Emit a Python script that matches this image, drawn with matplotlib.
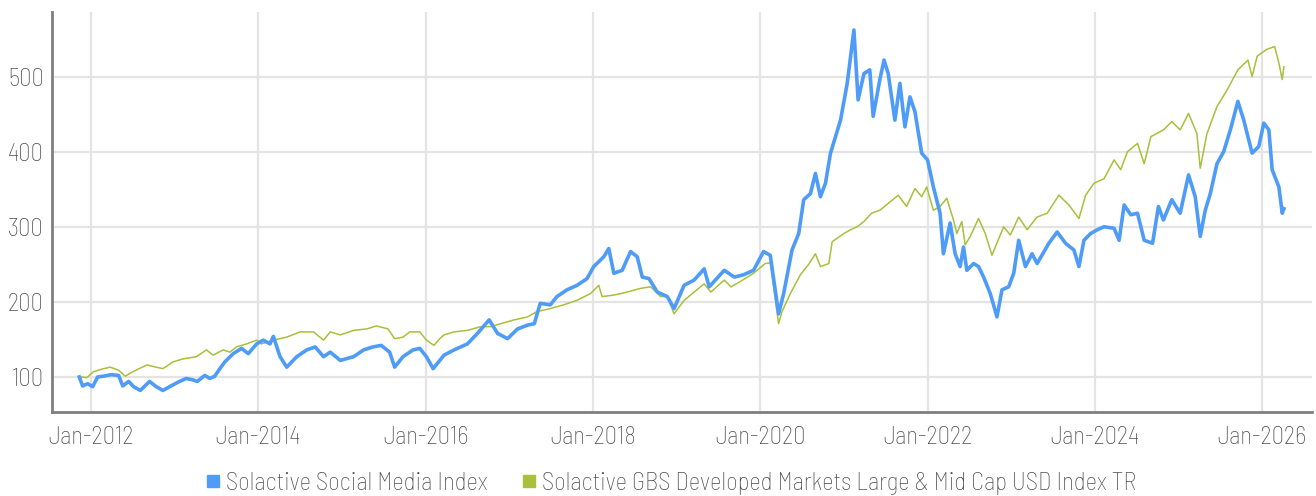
import matplotlib
matplotlib.use("Agg")
import matplotlib.pyplot as plt
from matplotlib.lines import Line2D
from matplotlib import font_manager

# ---------------- data ----------------
series_names = ["Solactive Social Media Index",
                "Solactive GBS Developed Markets Large & Mid Cap USD Index TR"]

social_t = [2011.86, 2011.90, 2011.96, 2012.02, 2012.08, 2012.15, 2012.24, 2012.33, 2012.38, 2012.45,
            2012.51, 2012.59, 2012.70, 2012.78, 2012.86, 2012.94, 2013.04, 2013.14, 2013.22, 2013.27,
            2013.36, 2013.42, 2013.48, 2013.54, 2013.60, 2013.70, 2013.80, 2013.88, 2013.98, 2014.06,
            2014.14, 2014.18, 2014.26, 2014.34, 2014.46, 2014.58, 2014.68, 2014.78, 2014.86, 2014.98,
            2015.14, 2015.26, 2015.37, 2015.47, 2015.57, 2015.63, 2015.73, 2015.85, 2015.93, 2016.01,
            2016.09, 2016.17, 2016.22, 2016.34, 2016.50, 2016.62, 2016.76, 2016.86, 2016.98, 2017.10,
            2017.22, 2017.30, 2017.37, 2017.49, 2017.57, 2017.69, 2017.81, 2017.93, 2018.01, 2018.13,
            2018.19, 2018.25, 2018.35, 2018.45, 2018.53, 2018.59, 2018.67, 2018.77, 2018.89, 2018.97,
            2019.09, 2019.21, 2019.33, 2019.39, 2019.57, 2019.69, 2019.80, 2019.92, 2020.04, 2020.12,
            2020.22, 2020.28, 2020.38, 2020.46, 2020.52, 2020.60, 2020.66, 2020.72, 2020.78, 2020.84,
            2020.96, 2021.04, 2021.12, 2021.17, 2021.24, 2021.31, 2021.35, 2021.43, 2021.48, 2021.53,
            2021.61, 2021.67, 2021.73, 2021.79, 2021.85, 2021.93, 2022.00, 2022.07, 2022.15, 2022.19,
            2022.27, 2022.33, 2022.39, 2022.43, 2022.47, 2022.55, 2022.61, 2022.67, 2022.75, 2022.83,
            2022.89, 2022.97, 2023.03, 2023.09, 2023.17, 2023.25, 2023.31, 2023.45, 2023.55, 2023.65,
            2023.75, 2023.81, 2023.87, 2023.95, 2024.03, 2024.11, 2024.23, 2024.29, 2024.35, 2024.43,
            2024.51, 2024.59, 2024.69, 2024.76, 2024.82, 2024.92, 2025.02, 2025.12, 2025.20, 2025.26,
            2025.32, 2025.38, 2025.46, 2025.54, 2025.62, 2025.71, 2025.78, 2025.88, 2025.96, 2026.02,
            2026.08, 2026.12, 2026.20, 2026.24, 2026.26]
social_v = [100, 88, 91, 87, 100, 101, 103, 102, 88, 94,
            87, 82, 94, 87, 82, 87, 93, 98, 96, 94,
            102, 98, 101, 111, 120, 131, 138, 131, 144, 149,
            144, 154, 127, 113, 127, 136, 140, 127, 133, 122,
            127, 136, 140, 142, 133, 113, 127, 136, 138, 127,
            111, 122, 129, 136, 144, 158, 176, 158, 151, 164,
            169, 171, 198, 196, 207, 216, 222, 231, 247, 260,
            271, 238, 242, 267, 260, 233, 231, 213, 207, 191,
            222, 229, 244, 220, 242, 233, 236, 242, 267, 262,
            184, 211, 269, 291, 336, 344, 371, 340, 358, 398,
            442, 491, 562, 469, 504, 509, 447, 496, 522, 504,
            442, 491, 433, 473, 453, 398, 389, 353, 318, 264,
            305, 264, 247, 273, 242, 251, 247, 233, 211, 180,
            216, 220, 238, 282, 247, 264, 251, 278, 293, 278,
            269, 247, 282, 291, 296, 300, 298, 282, 329, 316,
            318, 282, 278, 327, 309, 336, 318, 369, 340, 287,
            322, 344, 384, 400, 429, 467, 442, 398, 407, 438,
            429, 376, 353, 318, 324]

gbs_t = [2011.89, 2011.95, 2012.03, 2012.15, 2012.23, 2012.33, 2012.41, 2012.50, 2012.67, 2012.78,
         2012.86, 2012.98, 2013.10, 2013.26, 2013.38, 2013.46, 2013.58, 2013.66, 2013.74, 2013.86,
         2013.98, 2014.04, 2014.18, 2014.34, 2014.50, 2014.66, 2014.78, 2014.86, 2014.98, 2015.14,
         2015.30, 2015.41, 2015.55, 2015.63, 2015.73, 2015.81, 2015.93, 2016.01, 2016.10, 2016.17,
         2016.22, 2016.34, 2016.50, 2016.66, 2016.78, 2016.90, 2017.06, 2017.22, 2017.33, 2017.49,
         2017.65, 2017.81, 2017.97, 2018.07, 2018.11, 2018.25, 2018.41, 2018.57, 2018.69, 2018.81,
         2018.89, 2018.97, 2019.09, 2019.21, 2019.33, 2019.41, 2019.57, 2019.65, 2019.76, 2019.92,
         2020.06, 2020.12, 2020.22, 2020.26, 2020.36, 2020.48, 2020.58, 2020.66, 2020.72, 2020.82,
         2020.86, 2021.00, 2021.08, 2021.16, 2021.24, 2021.33, 2021.43, 2021.55, 2021.65, 2021.75,
         2021.85, 2021.93, 2021.99, 2022.07, 2022.15, 2022.23, 2022.31, 2022.35, 2022.41, 2022.45,
         2022.51, 2022.61, 2022.69, 2022.77, 2022.91, 2022.99, 2023.09, 2023.19, 2023.31, 2023.43,
         2023.57, 2023.69, 2023.81, 2023.89, 2023.99, 2024.11, 2024.23, 2024.31, 2024.39, 2024.51,
         2024.59, 2024.67, 2024.82, 2024.92, 2025.02, 2025.12, 2025.22, 2025.26, 2025.34, 2025.46,
         2025.58, 2025.71, 2025.83, 2025.88, 2025.94, 2026.05, 2026.15, 2026.20, 2026.24, 2026.26]
gbs_v = [100, 99, 107, 111, 113, 109, 101, 107, 116, 113,
         111, 120, 124, 127, 136, 129, 136, 133, 140, 144,
         149, 144, 149, 153, 160, 160, 149, 160, 156, 162,
         164, 168, 164, 151, 153, 160, 160, 149, 142, 151,
         156, 160, 162, 167, 167, 171, 176, 180, 187, 191,
         196, 202, 211, 222, 207, 209, 213, 218, 220, 207,
         207, 184, 202, 213, 224, 213, 229, 220, 227, 238,
         251, 252, 171, 187, 211, 236, 250, 264, 247, 251,
         280, 291, 296, 300, 307, 318, 322, 333, 342, 327,
         351, 340, 353, 322, 327, 338, 309, 291, 307, 276,
         287, 311, 291, 262, 300, 289, 313, 296, 313, 318,
         342, 329, 311, 342, 358, 364, 389, 376, 400, 411,
         384, 420, 429, 440, 429, 451, 424, 378, 424, 460,
         482, 509, 522, 500, 527, 536, 540, 518, 496, 513]

x_ticks = [2012, 2014, 2016, 2018, 2020, 2022, 2024, 2026]
x_tick_labels = ["Jan-2012", "Jan-2014", "Jan-2016", "Jan-2018",
                 "Jan-2020", "Jan-2022", "Jan-2024", "Jan-2026"]
y_ticks = [100, 200, 300, 400, 500]

# ---------------- style ----------------
names = {f.name for f in font_manager.fontManager.ttflist}
family = "DejaVu Sans"
for cand in ["Barlow Semi Condensed", "Barlow Condensed", "Barlow", "Archivo Narrow", "Asap Condensed"]:
    if cand in names:
        family = cand
        break
plt.rcParams["font.family"] = [family, "DejaVu Sans"]
plt.rcParams["font.weight"] = "light"

BLUE = "#4E9CF8"
GREEN = "#A8C03A"
TEXT = "#505050"
GRID = "#E4E4E4"
SPINE = "#7F7F7F"
FS = 17.8

W, H = 1316, 496
fig = plt.figure(figsize=(W / 100, H / 100), dpi=100)
ax = fig.add_axes([52 / W, 1 - 412 / H, (1312 - 52) / W, (412 - 12) / H])

ax.plot(gbs_t, gbs_v, color=GREEN, lw=1.1, zorder=3)
ax.plot(social_t, social_v, color=BLUE, lw=2.6, zorder=4, solid_joinstyle="round")

ax.set_xlim(2011.534, 2026.596)
ax.set_ylim(53.3, 586)
ax.set_xticks(x_ticks)
ax.set_xticklabels(x_tick_labels)
ax.set_yticks(y_ticks)
ax.grid(True, color=GRID, lw=1.6, zorder=0)
ax.set_axisbelow(True)
ax.tick_params(axis="both", length=0, labelsize=FS, colors=TEXT)
ax.tick_params(axis="y", pad=6)
ax.tick_params(axis="x", pad=10)

for s in ["top", "right"]:
    ax.spines[s].set_visible(False)
for s in ["left", "bottom"]:
    ax.spines[s].set_color(SPINE)
    ax.spines[s].set_linewidth(2)

handles = [Line2D([], [], marker="s", ls="none", color=BLUE, markersize=8),
           Line2D([], [], marker="s", ls="none", color=GREEN, markersize=8)]
fig.legend(handles, series_names, loc="center", bbox_to_anchor=(0.5087, 0.026),
           ncol=2, frameon=False, fontsize=FS, labelcolor=TEXT,
           handletextpad=0.12, columnspacing=1.3, handlelength=0.8)

fig.savefig("out.png", dpi=100)
